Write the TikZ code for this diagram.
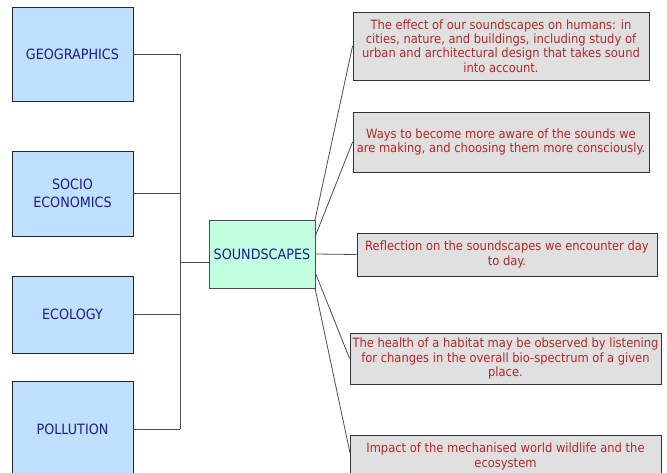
\documentclass[tikz,border=0pt]{standalone}
\usepackage{fontspec}
\setmainfont{DejaVu Sans Condensed}
\begin{document}
\begin{tikzpicture}[x=1pt,y=-1pt,
  lbox/.style={draw=black!85,line width=0.9pt,fill=leftfill,text=lefttext,align=center,inner sep=0pt,minimum width=121pt,font=\fontsize{14.2}{17.5}\selectfont},
  rbox/.style={draw=black!80,line width=0.9pt,fill=rightfill,text=righttext,align=center,inner sep=0pt,font=\fontsize{12.8}{14.4}\selectfont},
  conn/.style={draw=black!70,line width=0.8pt}]
\definecolor{leftfill}{HTML}{C0E0FF}
\definecolor{midfill}{HTML}{C0FFE0}
\definecolor{rightfill}{HTML}{E0E0E0}
\definecolor{lefttext}{HTML}{1C1C8C}
\definecolor{righttext}{HTML}{B02828}
\useasboundingbox (0,0) rectangle (667,473);
\clip (0,0) rectangle (667,473);
\node[lbox,minimum height=94pt] (geo) at (72.5,54) {GEOGRAPHICS};
\node[lbox,minimum height=85pt] (soc) at (72.5,193.5) {SOCIO\\ECONOMICS};
\node[lbox,minimum height=77pt] (eco) at (72.5,314.5) {ECOLOGY};
\node[lbox,minimum height=96pt] (pol) at (72.5,429) {POLLUTION};
\node[draw=black!70,line width=0.9pt,fill=midfill,text=lefttext,inner sep=0pt,minimum width=106pt,minimum height=68pt,font=\fontsize{14.2}{17.5}\selectfont] (snd) at (262,254) {SOUNDSCAPES};
\node[rbox,minimum width=296pt,minimum height=68pt] (b1) at (501,46) {The effect of our soundscapes on humans: in\\cities, nature, and buildings, including study of\\urban and architectural design that takes sound\\into account.};
\node[rbox,minimum width=296pt,minimum height=60pt] (b2) at (501,142) {Ways to become more aware of the sounds we\\are making, and choosing them more consciously.};
\node[rbox,minimum width=300pt,minimum height=43pt] (b3) at (507,254.5) {Reflection on the soundscapes we encounter day\\to day.};
\node[rbox,minimum width=311pt,minimum height=51pt] (b4) at (505.5,358.5) {The health of a habitat may be observed by listening\\for changes in the overall bio-spectrum of a given\\place.};
\node[rbox,minimum width=311pt,minimum height=43pt] (b5) at (505.5,456.5) {Impact of the mechanised world wildlife and the\\ecosystem};
\coordinate (t1) at (180,54);
\coordinate (t2) at (180,193.5);
\coordinate (t3) at (180,314.5);
\coordinate (t4) at (180,429);
\coordinate (tm) at (180,262);
\coordinate (s1) at (315,220);
\coordinate (s2) at (315,237);
\coordinate (s3) at (315,254);
\coordinate (s4) at (315,272);
\coordinate (s5) at (315,288);
\coordinate (e5) at (350,453);
\draw[conn] (geo.east) -- (t1);
\draw[conn] (soc.east) -- (t2);
\draw[conn] (eco.east) -- (t3);
\draw[conn] (pol.east) -- (t4);
\draw[conn] (t1) -- (t4);
\draw[conn] (tm) -- (tm -| snd.west);
\draw[conn] (s1) -- (b1.west);
\draw[conn] (s2) -- (b2.west);
\draw[conn] (s3) -- (b3.west);
\draw[conn] (s4) -- (b4.west);
\draw[conn] (s5) -- (e5);
\end{tikzpicture}
\end{document}
